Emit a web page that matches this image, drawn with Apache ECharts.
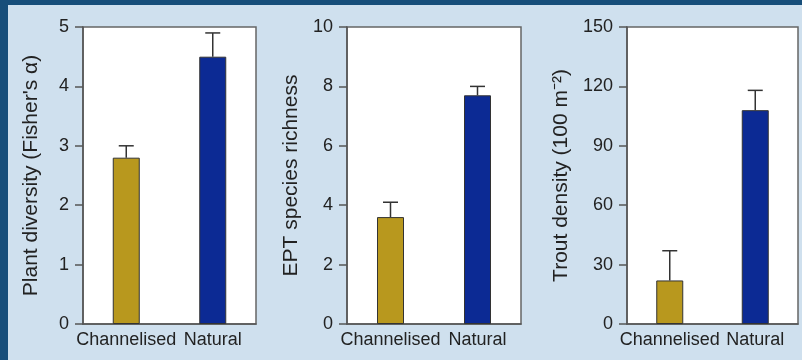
<!DOCTYPE html>
<html>
<head>
<meta charset="utf-8">
<script src="https://cdn.jsdelivr.net/npm/echarts@6/dist/echarts.min.js"></script>
<style>
html,body{margin:0;padding:0;background:#cfe0ee;}
#c{width:802px;height:360px;}
</style>
</head>
<body>
<div id="c"></div>
<script>
const categories = ['Channelised', 'Natural'];
const plantMean = [2.8, 4.5];
const plantErr = [0.2, 0.4];
const eptMean = [3.6, 7.7];
const eptErr = [0.5, 0.3];
const troutMean = [22, 108];
const troutErr = [15, 10];
const yNames = ["Plant diversity (Fisher's \u03b1)", 'EPT species richness', 'Trout density (100 m\u207b\u00b2)'];
const yMax = [5, 10, 150];
const yInterval = [1, 2, 30];
const barColors = ['#b8981e', '#0c2a94'];

const means = [plantMean, eptMean, troutMean];
const errs = [plantErr, eptErr, troutErr];
const grids = [
  {left: 83, top: 27, width: 173, height: 297},
  {left: 347, top: 27, width: 174, height: 297},
  {left: 627, top: 27, width: 171, height: 297}
];
const nameGaps = [41, 45, 55];
const font = 'Liberation Sans, Arial, Helvetica, sans-serif';

const option = {
  backgroundColor: '#cfe0ee',
  animation: false,
  graphic: [
    {type: 'rect', shape: {x: 0, y: 0, width: 802, height: 5}, style: {fill: '#174e7a'}, silent: true},
    {type: 'rect', shape: {x: 0, y: 0, width: 8, height: 360}, style: {fill: '#174e7a'}, silent: true}
  ],
  grid: grids.map(g => Object.assign({show: true, backgroundColor: '#ffffff', borderColor: '#666', borderWidth: 1.5}, g)),
  xAxis: grids.map((g, i) => ({
    type: 'category', gridIndex: i, data: categories,
    axisLine: {show: true, lineStyle: {color: '#555', width: 1.5}},
    axisTick: {show: false},
    axisLabel: {color: '#222', fontSize: 18, fontFamily: font, margin: 7, interval: 0}
  })),
  yAxis: grids.map((g, i) => ({
    type: 'value', gridIndex: i, min: 0, max: yMax[i], interval: yInterval[i],
    name: yNames[i], nameLocation: 'middle', nameGap: nameGaps[i],
    nameTextStyle: {color: '#222', fontSize: 21, fontFamily: font},
    axisLine: {show: true, lineStyle: {color: '#555', width: 1.5}},
    axisTick: {show: true, length: 8, lineStyle: {color: '#555', width: 1.5}},
    axisLabel: {color: '#222', fontSize: 18, fontFamily: font, margin: 14},
    splitLine: {show: false}
  })),
  series: []
};

for (let i = 0; i < 3; i++) {
  option.series.push({
    type: 'bar', xAxisIndex: i, yAxisIndex: i, barWidth: 27,
    data: means[i].map((v, k) => ({value: v, itemStyle: {color: barColors[k], borderColor: '#333', borderWidth: 1}})),
    z: 3
  });
  option.series.push({
    type: 'custom', xAxisIndex: i, yAxisIndex: i, z: 2,
    data: means[i].map((v, k) => [k, v, v + errs[i][k]]),
    renderItem: function (params, api) {
      const base = api.coord([api.value(0), api.value(1)]);
      const top = api.coord([api.value(0), api.value(2)]);
      const half = 7.5;
      return {
        type: 'group',
        children: [
          {type: 'line', shape: {x1: base[0], y1: base[1], x2: top[0], y2: top[1]}, style: {stroke: '#333', lineWidth: 1.5}},
          {type: 'line', shape: {x1: top[0] - half, y1: top[1], x2: top[0] + half, y2: top[1]}, style: {stroke: '#333', lineWidth: 1.5}}
        ]
      };
    }
  });
}

const chart = echarts.init(document.getElementById('c'), null, {renderer: 'canvas'});
chart.setOption(option);
</script>
</body>
</html>
